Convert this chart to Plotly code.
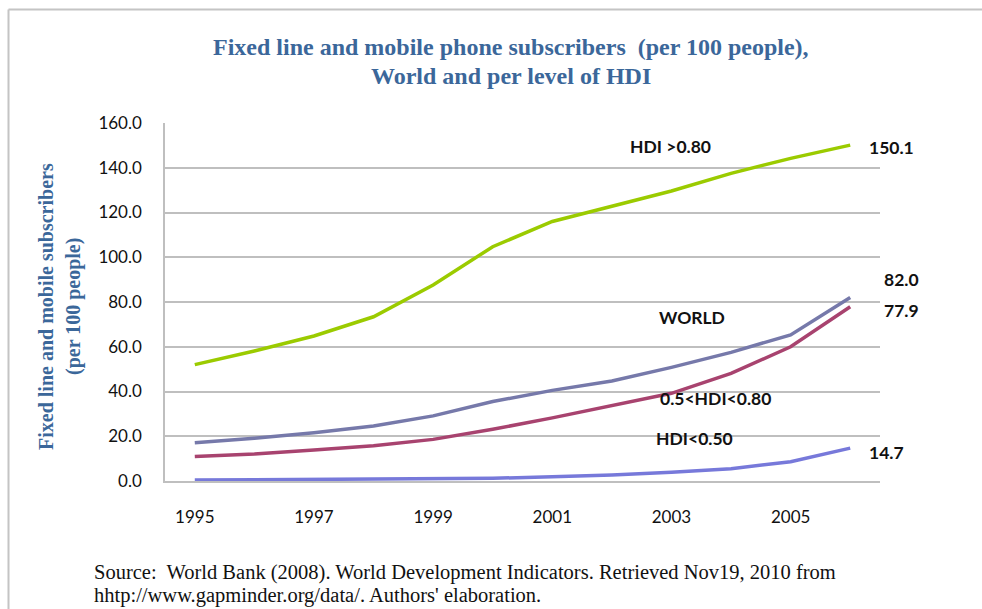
import plotly.graph_objects as go

# Subscribers (fixed line + mobile) per 100 people, 1995-2006
years = [str(y) for y in range(1995, 2007)]
hdi_high = [52.0, 58.1, 64.8, 73.4, 87.6, 104.7, 116.0, 122.9, 129.6, 137.5, 144.2, 150.1]
world = [17.1, 19.1, 21.6, 24.6, 29.1, 35.5, 40.5, 44.7, 50.8, 57.5, 65.3, 82.0]
hdi_mid = [10.9, 12.1, 13.9, 15.8, 18.6, 23.1, 28.2, 33.5, 39.2, 48.1, 60.0, 77.9]
hdi_low = [0.4, 0.5, 0.6, 0.7, 0.9, 1.2, 1.9, 2.7, 3.9, 5.5, 8.6, 14.7]

x_tick_labels = ["1995", "1997", "1999", "2001", "2003", "2005"]
y_tick_values = [0, 20, 40, 60, 80, 100, 120, 140, 160]

series_names = ["HDI >0.80", "WORLD", "0.5<HDI<0.80", "HDI<0.50"]
series_values = [hdi_high, world, hdi_mid, hdi_low]
series_colors = ["#9BCB00", "#7679AA", "#A8436F", "#7779DA"]

W, H = 982, 609
L, R, T, B = 165, 102, 123, 128
plot_w = W - L - R
plot_h = H - T - B


def px_x(x):
    return (x - L) / plot_w


def px_y(y):
    return (H - B - y) / plot_h


fig = go.Figure()
for name, vals, col in zip(series_names, series_values, series_colors):
    fig.add_trace(go.Scatter(
        x=years, y=vals, mode="lines", name=name,
        line=dict(color=col, width=3.5),
        showlegend=False, hoverinfo="x+y+name",
    ))

sans = "Lato, Open Sans, sans-serif"
serif = "Liberation Serif, Times New Roman, serif"
bold_font = dict(family=sans, size=17.5, color="#111111")
blue = "#3B679A"

annotations = []
# Series names placed beside their lines
name_pos = [
    ("HDI >0.80", 670, 146),
    ("WORLD", 692, 317),
    ("0.5<HDI<0.80", 715, 398),
    ("HDI<0.50", 694, 438),
]
for text, xpix, ypix in name_pos:
    annotations.append(dict(
        x=px_x(xpix), y=px_y(ypix), xref="paper", yref="paper",
        text=f"<b>{text}</b>", showarrow=False, font=bold_font,
        xanchor="center", yanchor="middle",
    ))

# End-of-line values taken from the last data point of each series
last = len(years) - 1
end_shift = [(17, -2), (32, 18), (32, -4), (17, -4)]
for vals, (dx, dy) in zip(series_values, end_shift):
    annotations.append(dict(
        x=last, y=vals[-1], xref="x", yref="y",
        text=f"<b>{vals[-1]:.1f}</b>", showarrow=False, font=bold_font,
        xanchor="left", yanchor="middle", xshift=dx, yshift=dy,
    ))

# Chart title, one annotation per line
for text, ypix in [("Fixed line and mobile phone subscribers  (per 100 people),", 47),
                   ("World and per level of HDI", 76)]:
    annotations.append(dict(
        x=px_x(511), y=px_y(ypix), xref="paper", yref="paper",
        text=f"<b>{text}</b>", showarrow=False,
        xanchor="center", yanchor="middle",
        font=dict(family=serif, size=24, color=blue),
    ))

# Vertical axis title
for text, xpix in [("Fixed line and mobile subscribers", 46), ("(per 100 people)", 73)]:
    annotations.append(dict(
        x=px_x(xpix), y=px_y(307), xref="paper", yref="paper",
        text=f"<b>{text}</b>", showarrow=False, textangle=-90,
        xanchor="center", yanchor="middle",
        font=dict(family=serif, size=20, color=blue),
    ))

# Source note
for text, ypix in [("Source:  World Bank (2008). World Development Indicators. Retrieved Nov19, 2010 from", 572),
                   ("hhtp://www.gapminder.org/data/. Authors' elaboration.", 595)]:
    annotations.append(dict(
        x=px_x(92), y=px_y(ypix), xref="paper", yref="paper",
        text=text, showarrow=False, xanchor="left", yanchor="middle", align="left",
        font=dict(family=serif, size=20.5, color="#111111"),
    ))

# Outer frame (top and left edges)
frame_col = "#C4C4C4"
shapes = [
    dict(type="line", xref="paper", yref="paper",
         x0=px_x(8.5), y0=px_y(9.5), x1=px_x(W + 5), y1=px_y(9.5),
         line=dict(color=frame_col, width=2)),
    dict(type="line", xref="paper", yref="paper",
         x0=px_x(8.5), y0=px_y(9.5), x1=px_x(8.5), y1=px_y(H + 5),
         line=dict(color=frame_col, width=2)),
]

tick_font = dict(family=sans, size=17, color="#111111")

fig.update_layout(
    width=W, height=H,
    margin=dict(l=L, r=R, t=T, b=B),
    paper_bgcolor="white", plot_bgcolor="white",
    annotations=annotations, shapes=shapes,
    xaxis=dict(
        type="category", categoryorder="array", categoryarray=years,
        range=[-0.5, len(years) - 0.5],
        tickmode="array", tickvals=x_tick_labels, ticktext=x_tick_labels,
        showgrid=False, zeroline=False,
        showline=True, linecolor="#BFBFBF", linewidth=1.5,
        ticks="", ticklabelstandoff=20,
        tickfont=tick_font,
    ),
    yaxis=dict(
        range=[0, 160], tickmode="array", tickvals=y_tick_values,
        tickformat=".1f",
        showgrid=True, gridcolor="#BFBFBF", gridwidth=1.5,
        zeroline=False,
        showline=True, linecolor="#BFBFBF", linewidth=1.5,
        ticks="", ticklabelstandoff=18,
        tickfont=tick_font,
    ),
)

fig.write_html("out.html")
